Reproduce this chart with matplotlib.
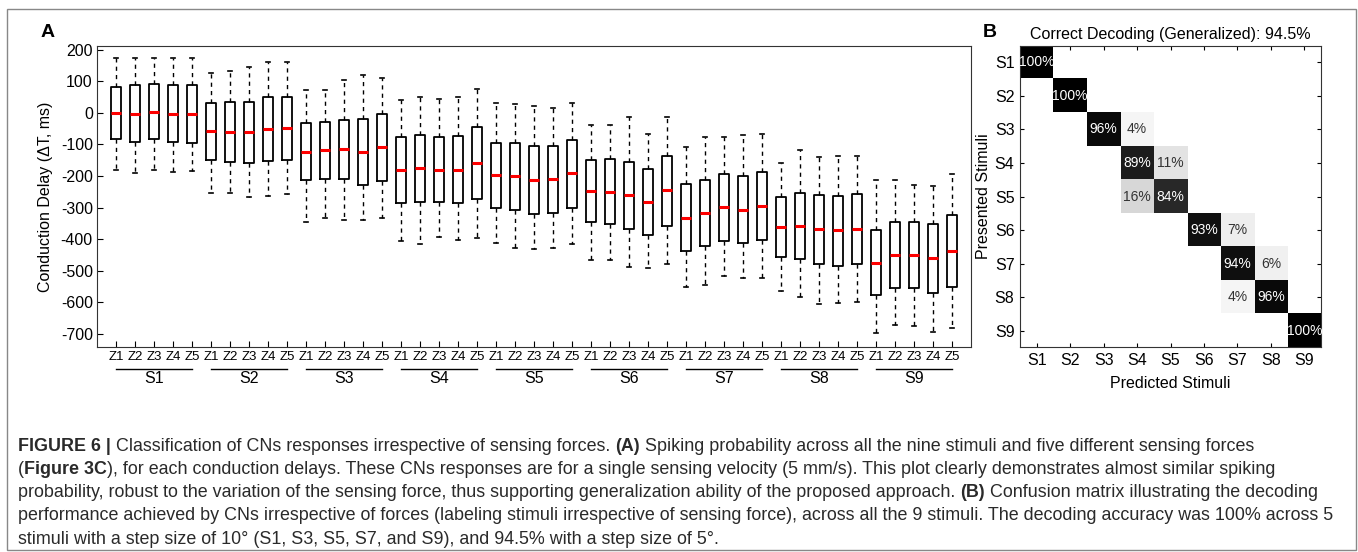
import numpy as np
import matplotlib
matplotlib.use("Agg")
from matplotlib import pyplot as plt
from matplotlib.patches import Rectangle

plt.rcParams['font.family'] = ['Liberation Sans', 'DejaVu Sans']
plt.rcParams['axes.unicode_minus'] = False

stimuli = ['S1', 'S2', 'S3', 'S4', 'S5', 'S6', 'S7', 'S8', 'S9']
forces = ['Z1', 'Z2', 'Z3', 'Z4', 'Z5']

# conduction delay box stats (ms), one row per stimulus, one column per force
whisk_hi = [[175, 175, 175, 175, 175],
            [127, 134, 146, 160, 160],
            [73, 73, 104, 121, 111],
            [41, 51, 43, 50, 76],
            [31, 29, 21, 16, 31],
            [-39, -39, -12, -68, -12],
            [-108, -78, -75, -71, -68],
            [-159, -117, -140, -138, -138],
            [-212, -213, -228, -231, -193]]
q3 = [[83, 87, 90, 87, 87],
      [31, 33, 35, 51, 51],
      [-32, -30, -23, -19, -5],
      [-77, -69, -77, -72, -44],
      [-95, -95, -104, -104, -85],
      [-150, -147, -156, -177, -136],
      [-227, -212, -193, -201, -188],
      [-266, -255, -261, -262, -256],
      [-371, -345, -346, -353, -323]]
medians = [[0, -3, 3, -2, -4],
           [-59, -60, -61, -50, -49],
           [-123, -119, -115, -123, -109],
           [-182, -175, -180, -180, -158],
           [-197, -199, -213, -210, -191],
           [-249, -250, -261, -281, -246],
           [-333, -316, -299, -307, -296],
           [-361, -360, -369, -372, -368],
           [-477, -450, -451, -460, -438]]
q1 = [[-83, -93, -83, -91, -95],
      [-150, -155, -158, -153, -148],
      [-213, -210, -210, -228, -215],
      [-285, -282, -283, -287, -272],
      [-303, -307, -321, -318, -300],
      [-346, -353, -367, -387, -357],
      [-438, -422, -405, -412, -404],
      [-458, -464, -478, -484, -480],
      [-576, -554, -554, -570, -552]]
whisk_lo = [[-182, -191, -180, -187, -184],
            [-253, -255, -268, -263, -258],
            [-345, -333, -339, -339, -333],
            [-405, -415, -394, -404, -397],
            [-411, -427, -430, -429, -417],
            [-466, -466, -487, -493, -479],
            [-553, -546, -517, -524, -522],
            [-566, -583, -607, -604, -600],
            [-699, -671, -675, -695, -683]]

# confusion matrix (%), rows = presented, cols = predicted
confusion = np.array([
    [100, 0, 0, 0, 0, 0, 0, 0, 0],
    [0, 100, 0, 0, 0, 0, 0, 0, 0],
    [0, 0, 96, 4, 0, 0, 0, 0, 0],
    [0, 0, 0, 89, 11, 0, 0, 0, 0],
    [0, 0, 0, 16, 84, 0, 0, 0, 0],
    [0, 0, 0, 0, 0, 93, 7, 0, 0],
    [0, 0, 0, 0, 0, 0, 94, 6, 0],
    [0, 0, 0, 0, 0, 0, 4, 96, 0],
    [0, 0, 0, 0, 0, 0, 0, 0, 100]])

fig = plt.figure(figsize=(13.58, 5.52), dpi=100)

# ---- panel A: boxplots
axA = fig.add_axes([0.0714, 0.3714, 0.6436, 0.5453])
stats = []
for i in range(len(stimuli)):
    for j in range(len(forces)):
        stats.append(dict(whislo=whisk_lo[i][j], q1=q1[i][j], med=medians[i][j],
                          q3=q3[i][j], whishi=whisk_hi[i][j], fliers=[]))
pos = np.arange(1, len(stats) + 1)
axA.bxp(stats, positions=pos, widths=0.55, showfliers=False, capwidths=0.22,
        boxprops=dict(color='black', lw=1.3),
        medianprops=dict(color='red', lw=2.2),
        whiskerprops=dict(color='black', lw=1.0, ls=(0, (3, 3))),
        capprops=dict(color='black', lw=1.2))
axA.set_xlim(0, len(stats) + 1)
axA.set_ylim(-742, 212)
axA.set_yticks(np.arange(-700, 201, 100))
axA.tick_params(axis='y', direction='in', length=4, labelsize=11.5, pad=3)
axA.set_xticks(pos)
axA.set_xticklabels(forces * len(stimuli), fontsize=9.5)
axA.tick_params(axis='x', direction='in', length=4, pad=3)
for sp in axA.spines.values():
    sp.set_color('#333333')
axA.set_ylabel('Conduction Delay (\u0394T, ms)', fontsize=11.5)
axA.yaxis.set_label_coords(-0.05, 0.5)
trans = axA.get_xaxis_transform()
for i, s in enumerate(stimuli):
    x0 = i * 5 + 1
    axA.plot([x0, x0 + 4], [-0.073, -0.073], color='black', lw=1, transform=trans, clip_on=False)
    axA.text(x0 + 2, -0.106, s, transform=trans, ha='center', va='center', fontsize=11.5)

# ---- panel B: confusion matrix
axB = fig.add_axes([0.7511, 0.3705, 0.2217, 0.547])
axB.imshow(confusion / 100.0, cmap='gray_r', vmin=0, vmax=1, aspect='auto')
for r in range(9):
    for c in range(9):
        v = confusion[r, c]
        if v > 0:
            axB.text(c, r, '%d%%' % v, ha='center', va='center', fontsize=10,
                     color='white' if v > 50 else '#333333')
axB.set_xticks(range(9))
axB.set_xticklabels(stimuli, fontsize=11.5)
axB.set_yticks(range(9))
axB.set_yticklabels(stimuli, fontsize=11.5)
axB.tick_params(direction='in', length=3, top=True, right=True, pad=4)
for sp in axB.spines.values():
    sp.set_color('#333333')
axB.set_title('Correct Decoding (Generalized): 94.5%', fontsize=11.5, pad=5)
axB.set_xlabel('Predicted Stimuli', fontsize=11.5, labelpad=6)
axB.set_ylabel('Presented Stimuli', fontsize=11.5, labelpad=3)

fig.text(0.0295, 0.942, 'A', fontsize=14, weight='bold', va='center')
fig.text(0.7235, 0.942, 'B', fontsize=14, weight='bold', va='center')

fig.patches.append(Rectangle((0.0052, 0.004), 0.9933, 0.98, transform=fig.transFigure,
                             fill=False, ec='#888888', lw=1))

# ---- caption
cap = fig.add_axes([0, 0, 1, 1])
cap.axis('off')
cap_fs = 12.9
lines = [
    [('FIGURE 6 |', 'bold'), (' Classification of CNs responses irrespective of sensing forces. ', 'normal'),
     ('(A)', 'bold'), (' Spiking probability across all the nine stimuli and five different sensing forces', 'normal')],
    [('(', 'normal'), ('Figure 3C', 'bold'),
     ('), for each conduction delays. These CNs responses are for a single sensing velocity (5 mm/s). This plot clearly demonstrates almost similar spiking', 'normal')],
    [('probability, robust to the variation of the sensing force, thus supporting generalization ability of the proposed approach. ', 'normal'),
     ('(B)', 'bold'), (' Confusion matrix illustrating the decoding', 'normal')],
    [('performance achieved by CNs irrespective of forces (labeling stimuli irrespective of sensing force), across all the 9 stimuli. The decoding accuracy was 100% across 5', 'normal')],
    [('stimuli with a step size of 10\u00b0 (S1, S3, S5, S7, and S9), and 94.5% with a step size of 5\u00b0.', 'normal')],
]
line_y = [0.176, 0.134, 0.092, 0.050, 0.008]
for y, parts in zip(line_y, lines):
    prev = cap.text(0.0133, y, parts[0][0], weight=parts[0][1], fontsize=cap_fs,
                    color='#2a2a2a', transform=fig.transFigure, va='bottom')
    for s, w in parts[1:]:
        prev = cap.annotate(s, xy=(1, 0), xycoords=prev, weight=w, fontsize=cap_fs,
                            color='#2a2a2a', va='bottom', ha='left')

fig.savefig('out.png', dpi=100)
